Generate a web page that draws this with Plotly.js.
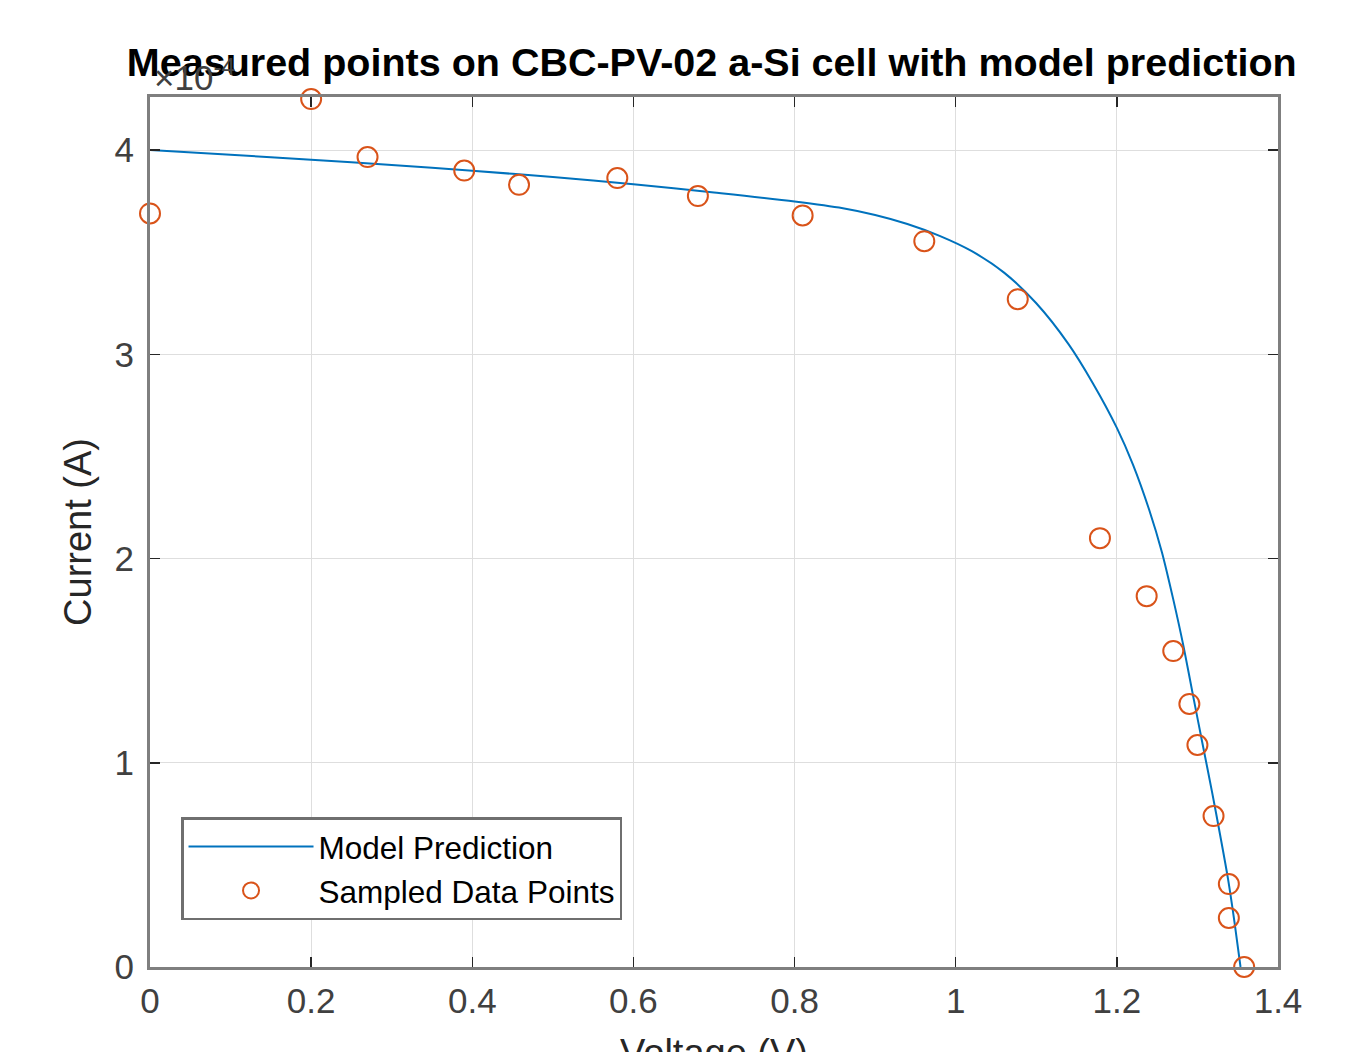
<!DOCTYPE html>
<html>
<head>
<meta charset="utf-8">
<script src="https://cdn.plot.ly/plotly-3.0.1.min.js"></script>
<style>
  html, body { margin: 0; padding: 0; background: #fff; }
  #chart { width: 1354px; height: 1052px; }
</style>
</head>
<body>
<div id="chart"></div>
<script>
// Values; currents in units of 1e-4 A (axis shows x10^-4)
const CURRENT_SCALE = 1e-4;

const measuredVoltage = [0, 0.20, 0.27, 0.39, 0.458, 0.58, 0.68, 0.81, 0.961, 1.077,
                         1.179, 1.237, 1.27, 1.29, 1.30, 1.32, 1.339, 1.339, 1.358];
const measuredCurrent = [3.69, 4.25, 3.966, 3.90, 3.83, 3.863, 3.775, 3.68, 3.554, 3.27,
                         2.10, 1.816, 1.547, 1.288, 1.087, 0.739, 0.406, 0.24, 0.0];

const modelVoltage = [0, 0.1, 0.2, 0.3, 0.4, 0.5, 0.6, 0.7, 0.8, 0.86, 0.9, 0.94, 0.98,
                      1.02, 1.06, 1.10, 1.14, 1.17, 1.20, 1.22, 1.24, 1.256, 1.27, 1.283,
                      1.295, 1.307, 1.318, 1.328, 1.338, 1.346, 1.3535];
const modelCurrent = [4.000, 3.977, 3.953, 3.927, 3.899, 3.868, 3.833, 3.792, 3.748, 3.715,
                      3.682, 3.638, 3.58, 3.505, 3.40, 3.25, 3.05, 2.86, 2.64, 2.46, 2.24,
                      2.03, 1.80, 1.565, 1.32, 1.08, 0.86, 0.65, 0.43, 0.22, 0.0];

const xTicks = [0, 0.2, 0.4, 0.6, 0.8, 1, 1.2, 1.4];
const xTickLabels = ['0', '0.2', '0.4', '0.6', '0.8', '1', '1.2', '1.4'];
const yTicks = [0, 1, 2, 3, 4];
const yTickLabels = ['0', '1', '2', '3', '4'];

const titleText = 'Measured points on CBC-PV-02 a-Si cell with model prediction';
const xLabel = 'Voltage (V)';
const yLabel = 'Current (A)';
const seriesNames = ['Model Prediction', 'Sampled Data Points'];

const FONT = 'Liberation Sans, Arial, Helvetica, sans-serif';
const AXIS_TEXT = '#262626';

const traces = [
  {
    x: modelVoltage,
    y: modelCurrent.map(v => v * CURRENT_SCALE),
    type: 'scatter',
    mode: 'lines',
    name: seriesNames[0],
    line: { color: '#0072BD', width: 2, shape: 'spline', smoothing: 0.8 }
  },
  {
    x: measuredVoltage,
    y: measuredCurrent.map(v => v * CURRENT_SCALE),
    type: 'scatter',
    mode: 'markers',
    name: seriesNames[1],
    marker: { symbol: 'circle-open', size: 20, color: '#D95319', line: { color: '#D95319', width: 2 } },
    cliponaxis: false
  }
];

const layout = {
  width: 1354,
  height: 1052,
  paper_bgcolor: '#ffffff',
  plot_bgcolor: '#ffffff',
  margin: { l: 150, r: 76, t: 97, b: 85, pad: 0 },
  font: { family: FONT, color: AXIS_TEXT },
  title: {
    text: '<b>' + titleText + '</b>',
    font: { family: FONT, size: 39.5, color: '#000000' },
    x: 0.498, xref: 'paper', xanchor: 'center',
    y: 1 - 62 / 1052, yref: 'container', yanchor: 'middle'
  },
  xaxis: {
    range: [0, 1.4],
    tickvals: xTicks,
    ticktext: xTickLabels,
    ticks: 'inside',
    ticklen: 10,
    tickwidth: 1.5,
    tickcolor: '#262626',
    tickfont: { family: FONT, size: 35, color: '#404040' },
    showgrid: true,
    gridcolor: '#dedede',
    gridwidth: 1,
    zeroline: false,
    showline: true,
    linecolor: '#7f7f7f',
    linewidth: 3,
    mirror: 'ticks',
    ticklabelstandoff: 1
  },
  yaxis: {
    range: [0, 4.26 * CURRENT_SCALE],
    tickvals: yTicks.map(v => v * CURRENT_SCALE),
    ticktext: yTickLabels,
    ticks: 'inside',
    ticklen: 10,
    tickwidth: 1.5,
    tickcolor: '#262626',
    tickfont: { family: FONT, size: 35, color: '#404040' },
    showgrid: true,
    gridcolor: '#dedede',
    gridwidth: 1,
    zeroline: false,
    showline: true,
    linecolor: '#7f7f7f',
    linewidth: 3,
    mirror: 'ticks',
    ticklabelstandoff: 6,
    title: { text: yLabel, font: { family: FONT, size: 38, color: '#262626' }, standoff: 12 }
  },
  showlegend: true,
  legend: {
    x: 0.0275, y: 0.054, xanchor: 'left', yanchor: 'bottom',
    bgcolor: '#ffffff',
    bordercolor: '#6f6f6f',
    borderwidth: 2.5,
    font: { family: FONT, size: 31.5, color: '#000000' },
    itemwidth: 125,
    tracegroupgap: 0
  },
  annotations: [
    {
      text: '\u00d710<sup>-4</sup>',
      xref: 'paper', yref: 'paper',
      x: 0, y: 1, xanchor: 'left', yanchor: 'bottom',
      xshift: 2, yshift: -2,
      showarrow: false,
      font: { family: FONT, size: 35, color: '#404040' }
    },
    {
      text: xLabel,
      xref: 'paper', yref: 'paper',
      x: 0.5, y: 0, xanchor: 'center', yanchor: 'middle',
      yshift: -86,
      showarrow: false,
      font: { family: FONT, size: 38, color: '#262626' }
    }
  ]
};

Plotly.newPlot('chart', traces, layout, { displayModeBar: false, staticPlot: true });
</script>
</body>
</html>
